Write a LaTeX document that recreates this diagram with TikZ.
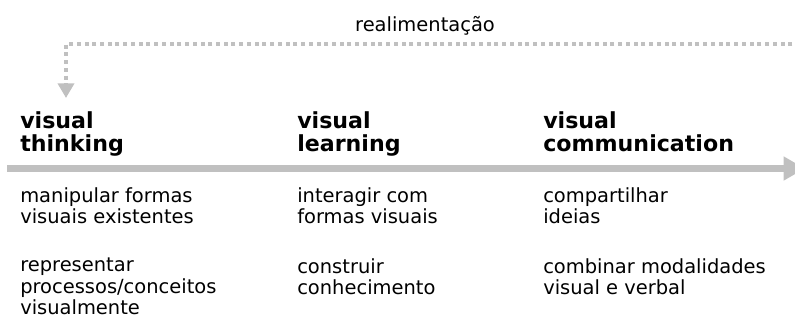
\documentclass[tikz,border=0pt]{standalone}
\usepackage{fontspec}
\setmainfont{DejaVu Sans}
\usetikzlibrary{arrows.meta,positioning}
\definecolor{cinza}{RGB}{192,192,192}

\begin{document}
\begin{tikzpicture}[x=0.75pt,y=-0.75pt,
    titulo/.style={font=\bfseries\fontsize{16.6}{17.5}\selectfont, align=left, anchor=north west, inner sep=0pt},
    texto/.style={font=\fontsize{14.6}{16}\selectfont, align=left, anchor=north west, inner sep=0pt},
    eixo/.style={cinza, line width=5.2pt, -{Triangle[width=17pt,length=16pt]}},
    realim/.style={cinza, line width=3pt, dash pattern=on 3pt off 2.8pt, -{Triangle[width=12pt,length=11pt]}}]
    \useasboundingbox (0,0) rectangle (795,329);

    % Retroalimentacao
    \node[anchor=base, inner sep=0pt, font=\fontsize{14.6}{15}\selectfont] (rotulo) at (425,31) {realimentação};
    \coordinate (fbini) at (800,44);
    \coordinate (fbfim) at (66,98);
    \draw[realim] (fbini) -| (fbfim);

    % Eixo principal
    \coordinate (eixoini) at (7,168.5);
    \coordinate (eixofim) at (805,168.5);
    \draw[eixo] (eixoini) -- (eixofim);

    % Titulos das etapas
    \node[titulo] (thinking) at (20,111) {visual\\thinking};
    \node[titulo] (learning) at (297,111) {visual\\learning};
    \node[titulo] (communication) at (543,111) {visual\\communication};

    % Descricoes
    \node[texto] (think1) at (20,187) {manipular formas\\visuais existentes};
    \node[texto] (think2) at (20,258) {representar\\processos/conceitos\\visualmente};
    \node[texto] (learn1) at (297,187) {interagir com\\formas visuais};
    \node[texto] (learn2) at (297,258) {construir\\conhecimento};
    \node[texto] (comm1) at (543,187) {compartilhar\\ideias};
    \node[texto] (comm2) at (543,258) {combinar modalidades\\visual e verbal};
\end{tikzpicture}
\end{document}
